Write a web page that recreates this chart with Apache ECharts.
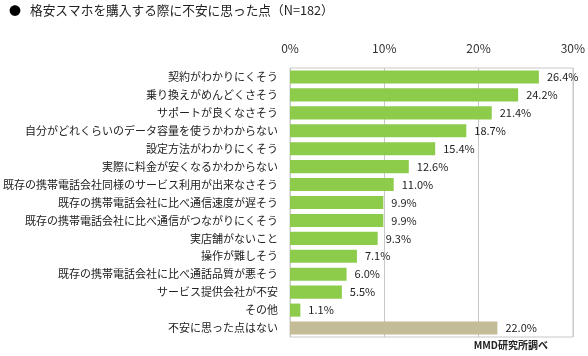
<!DOCTYPE html>
<html><head><meta charset="utf-8">
<script src="https://cdn.jsdelivr.net/npm/echarts@6/dist/echarts.min.js"></script>
<style>html,body{margin:0;padding:0;background:#fff}#c{width:588px;height:356px}</style>
</head><body><div id="c"></div>
<script>
const categories = [
  "契約がわかりにくそう",
  "乗り換えがめんどくさそう",
  "サポートが良くなさそう",
  "自分がどれくらいのデータ容量を使うかわからない",
  "設定方法がわかりにくそう",
  "実際に料金が安くなるかわからない",
  "既存の携帯電話会社同様のサービス利用が出来なさそう",
  "既存の携帯電話会社に比べ通信速度が遅そう",
  "既存の携帯電話会社に比べ通信がつながりにくそう",
  "実店舗がないこと",
  "操作が難しそう",
  "既存の携帯電話会社に比べ通話品質が悪そう",
  "サービス提供会社が不安",
  "その他",
  "不安に思った点はない"
];
const values = [26.4, 24.2, 21.4, 18.7, 15.4, 12.6, 11.0, 9.9, 9.9, 9.3, 7.1, 6.0, 5.5, 1.1, 22.0];
const xTicks = [0, 10, 20, 30];
const title = "格安スマホを購入する際に不安に思った点（N=182）";
const source = "MMD研究所調べ";

const FONT = '"Noto Sans CJK JP", "Noto Sans", sans-serif';
const chart = echarts.init(document.getElementById('c'), null, {renderer: 'canvas'});
chart.setOption({
  animation: false,
  textStyle: {fontFamily: FONT},
  graphic: [
    {type: 'text', left: 9, top: 5, style: {text: '●', font: '12px ' + FONT, fill: '#000'}},
    {type: 'text', left: 30, top: 4, style: {text: title, font: '12.7px ' + FONT, fill: '#222'}},
    {type: 'text', right: 40, top: 340, style: {text: source, font: 'bold 10px ' + FONT, fill: '#222'}},
    {type: 'rect', shape: {x: 290, y: 68, width: 283, height: 269}, style: {fill: 'none', stroke: '#c8c8c8', lineWidth: 1}, z: -1}
  ],
  grid: {left: 290, right: 15, top: 68, bottom: 19, containLabel: false},
  xAxis: {
    type: 'value', position: 'top', min: xTicks[0], max: xTicks[xTicks.length - 1], interval: 10,
    axisLine: {show: false}, axisTick: {show: false},
    axisLabel: {formatter: v => v + '%', fontSize: 12, color: '#333', margin: 14, fontFamily: FONT},
    splitLine: {show: true, lineStyle: {color: '#c8c8c8', width: 1}}
  },
  yAxis: {
    type: 'category', data: categories, inverse: true,
    axisLine: {show: false}, axisTick: {show: false},
    axisLabel: {fontSize: 11, color: '#222', margin: 12, fontFamily: FONT}
  },
  series: [{
    type: 'bar', barCategoryGap: '27%',
    data: values.map((v, i) => ({value: v, itemStyle: {color: i === values.length - 1 ? '#c4bc96' : '#8dcb4b'}})),
    label: {show: true, position: 'right', distance: 8, formatter: p => p.value.toFixed(1) + '%', fontSize: 11, color: '#222', fontFamily: FONT}
  }]
});
</script></body></html>
